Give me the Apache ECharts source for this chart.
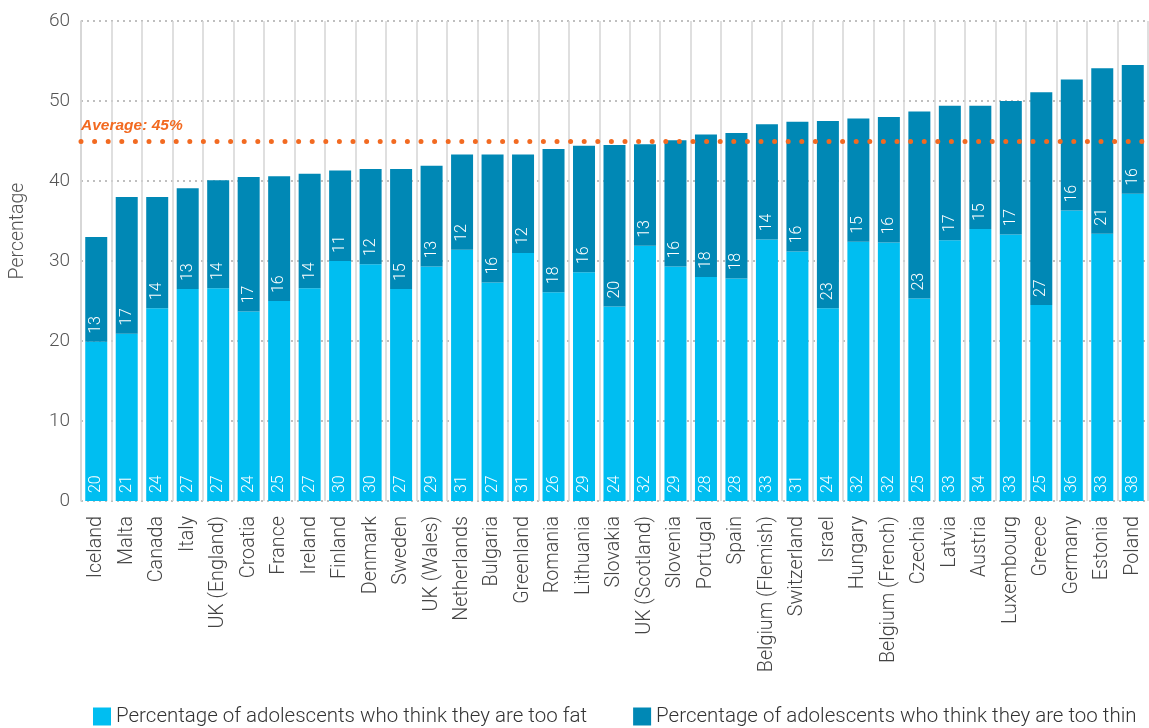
<!DOCTYPE html>
<html>
<head>
<meta charset="utf-8">
<script src="https://cdn.jsdelivr.net/npm/echarts@6/dist/echarts.min.js"></script>
<style>html,body{margin:0;padding:0;background:#fff;}#c{width:1149px;height:728px;}</style>
</head>
<body>
<div id="c"></div>
<script>
const countries = ["Iceland","Malta","Canada","Italy","UK (England)","Croatia","France","Ireland","Finland","Denmark","Sweden","UK (Wales)","Netherlands","Bulgaria","Greenland","Romania","Lithuania","Slovakia","UK (Scotland)","Slovenia","Portugal","Spain","Belgium (Flemish)","Switzerland","Israel","Hungary","Belgium (French)","Czechia","Latvia","Austria","Luxembourg","Greece","Germany","Estonia","Poland"];
const tooFat  = [19.9,20.9,24.1,26.5,26.6,23.7,25.0,26.6,30.0,29.6,26.5,29.3,31.4,27.3,31.0,26.1,28.6,24.3,31.9,29.3,28.0,27.8,32.7,31.2,24.1,32.4,32.3,25.3,32.6,34.0,33.3,24.5,36.3,33.4,38.4];
const tooThin = [13.1,17.1,13.9,12.6,13.5,16.8,15.6,14.3,11.3,11.9,15.0,12.6,11.9,16.0,12.3,17.9,15.8,20.2,12.7,15.8,17.8,18.2,14.4,16.2,23.4,15.4,15.7,23.4,16.8,15.4,16.7,26.6,16.4,20.7,16.1];
const averageValue = 45;
const yTicks = [0,10,20,30,40,50,60];

const chart = echarts.init(document.getElementById('c'));
const FONT = '"Liberation Sans", Arial, sans-serif';
const LIGHT = 'Roboto, "Liberation Sans", sans-serif';
const barLabel = {
  show: true,
  position: 'insideBottom',
  rotate: 90,
  align: 'left',
  verticalAlign: 'middle',
  distance: 8,
  color: '#ffffff',
  fontSize: 16,
  fontFamily: LIGHT,
  fontWeight: 300,
  formatter: p => Math.round(p.value)
};
chart.setOption({
  animation: false,
  textStyle: { fontFamily: FONT },
  grid: { left: 81, right: 1, top: 21, bottom: 227, containLabel: false },
  legend: {
    left: 88, top: 701,
    itemWidth: 18, itemHeight: 18, itemGap: 46,
    icon: 'rect',
    textStyle: { fontSize: 20.5, color: '#333', fontFamily: LIGHT, fontWeight: 300 },
    data: ['Percentage of adolescents who think they are too fat','Percentage of adolescents who think they are too thin']
  },
  xAxis: {
    type: 'category',
    data: countries,
    axisLine: { show: false },
    axisTick: { show: false },
    axisLabel: { rotate: 90, interval: 0, fontSize: 19.7, color: '#444', margin: 15, fontFamily: LIGHT, fontWeight: 300 },
    splitLine: { show: true, interval: 0, lineStyle: { color: '#d4d4d4', width: 1.5, type: 'solid' } }
  },
  yAxis: {
    type: 'value',
    min: yTicks[0], max: yTicks[yTicks.length-1], interval: 10,
    axisLine: { show: true, lineStyle: { color: '#d4d4d4', width: 1.5 } },
    axisTick: { show: false },
    axisLabel: { fontSize: 19, color: '#555', margin: 11, fontFamily: LIGHT, fontWeight: 300 },
    splitLine: { show: true, lineStyle: { color: '#aaaaaa', type: [2, 4], width: 1.5 } }
  },
  graphic: [{
    type: 'text', x: 18, y: 231, rotation: Math.PI / 2,
    style: { text: 'Percentage', fill: '#555', font: '300 19.5px ' + LIGHT, textAlign: 'center', textVerticalAlign: 'middle' }
  }],
  series: [
    {
      name: 'Percentage of adolescents who think they are too fat',
      type: 'bar', stack: 'total', data: tooFat,
      barWidth: 22,
      itemStyle: { color: '#00bef1' },
      label: barLabel
    },
    {
      name: 'Percentage of adolescents who think they are too thin',
      type: 'bar', stack: 'total', data: tooThin,
      barWidth: 22,
      itemStyle: { color: '#0088b5' },
      label: barLabel,
      markLine: {
        silent: true,
        symbol: ['none','none'],
        data: [{ yAxis: averageValue }],
        lineStyle: { color: '#f26a21', width: 5, type: [0, 13.6], cap: 'round' },
        label: {
          show: true, position: 'insideStartTop', formatter: 'Average: 45%',
          color: '#f26a21', fontSize: 15.5, fontWeight: 'bold', fontStyle: 'italic',
          distance: [0, 7], fontFamily: FONT
        }
      }
    }
  ]
});
</script>
</body>
</html>
